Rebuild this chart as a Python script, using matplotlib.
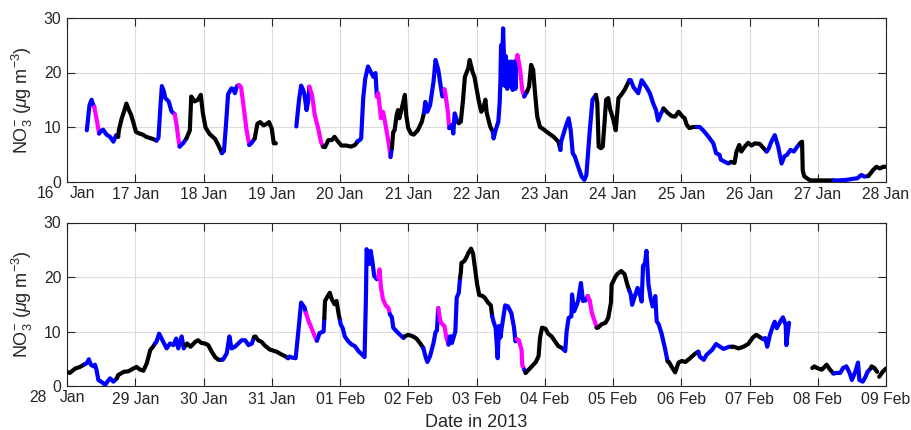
import numpy as np
import matplotlib
matplotlib.use("Agg")
import matplotlib.pyplot as plt
import matplotlib.dates as mdates
import matplotlib.transforms as mtransforms
from datetime import datetime

plt.rcParams['font.family'] = ['Liberation Sans', 'DejaVu Sans']
plt.rcParams['mathtext.fontset'] = 'custom'
plt.rcParams['mathtext.rm'] = 'Liberation Sans'
plt.rcParams['mathtext.it'] = 'Liberation Sans:italic'

# ---------------- data (days since panel start, NO3 value, colour code) ----------------
top_start = datetime(2013, 1, 16)
bot_start = datetime(2013, 1, 28)
nan = np.nan

top_day = [0.29, 0.33, 0.36, 0.38, 0.40, 0.44, 0.47, 0.50, 0.53, 0.58, 0.63, 0.68, 0.72, 0.75,
           0.76, 0.80, 0.84, 0.87, 0.91, 0.94, 0.98, 1.01, 1.06, 1.11, 1.16, 1.21, 1.26, 1.31,
           1.34, 1.37, 1.39, 1.42, 1.44, 1.49, 1.53, 1.58, 1.61, 1.63, 1.65, 1.70, 1.75,
           1.80, 1.82, 1.87, 1.92, 1.96, 1.99, 2.03, 2.09, 2.17, 2.22, 2.27,
           2.30, 2.33, 2.36, 2.41, 2.44, 2.46, 2.49, 2.52, 2.55, 2.58, 2.63, 2.67, 2.70, 2.75,
           2.79, 2.83, 2.88, 2.93, 2.96, 3.00, 3.03, 3.06, 3.20,
           3.36, 3.40, 3.43, 3.46, 3.48, 3.51, 3.54, 3.55, 3.59, 3.63, 3.68, 3.72, 3.75,
           3.78, 3.83, 3.88, 3.92, 3.96, 4.02, 4.09, 4.16, 4.22, 4.26,
           4.29, 4.31, 4.34, 4.37, 4.41, 4.46, 4.49, 4.52, 4.54,
           4.56, 4.60, 4.63, 4.65, 4.71, 4.74, 4.76,
           4.78, 4.80, 4.83, 4.85, 4.87, 4.90, 4.95, 4.97, 5.00, 5.04, 5.08, 5.14, 5.20, 5.23,
           5.25, 5.28, 5.32, 5.37, 5.40, 5.44, 5.48, 5.50, 5.53, 5.54, 5.58, 5.60,
           5.64, 5.66, 5.68, 5.72, 5.74,
           5.77, 5.80, 5.83, 5.88, 5.90, 5.94, 5.97, 6.03, 6.07, 6.10, 6.13, 6.15, 6.20, 6.24,
           6.25, 6.28, 6.32, 6.34, 6.35, 6.36, 6.37, 6.39, 6.40, 6.42, 6.43, 6.45, 6.47, 6.49,
           6.51, 6.53, 6.55, 6.57, 6.59, 6.60, 6.64, 6.67, 6.70, 6.74,
           6.77, 6.80, 6.83, 6.86, 6.89, 6.93, 6.98, 7.03, 7.13, 7.20, 7.23,
           7.24, 7.30, 7.35, 7.38, 7.41, 7.44, 7.49, 7.54, 7.58, 7.61, 7.66, 7.70, 7.75,
           7.77, 7.79, 7.82, 7.85, 7.90, 7.93, 7.96, 8.00, 8.04, 8.08, 8.12, 8.17, 8.24,
           8.26, 8.30, 8.37, 8.42, 8.49, 8.54, 8.59, 8.63, 8.66, 8.70, 8.74,
           8.81, 8.86, 8.91, 8.96, 9.02, 9.05, 9.08, 9.12, 9.17, 9.23,
           9.27, 9.32, 9.40, 9.47, 9.51, 9.56, 9.58, 9.64, 9.69, 9.73,
           9.78, 9.81, 9.85, 9.88, 9.93, 9.98, 10.03, 10.08, 10.15, 10.20, 10.25,
           10.28, 10.32, 10.37, 10.42, 10.47, 10.51, 10.55, 10.60, 10.65, 10.70, 10.74,
           10.77, 10.78, 10.80, 10.84, 10.89, 11.00, 11.10, 11.23,
           11.30, 11.42, 11.52, 11.58, 11.64, 11.68, 11.74,
           11.78, 11.81, 11.86, 11.91, 11.96, 12.00]
top_val = [9.4, 14.0, 15.0, 14.2, 13.7, 11.0, 8.8, 9.3, 9.5, 8.6, 8.2, 7.3, 8.5, 8.2,
           9.4, 11.5, 13.0, 14.3, 13.0, 12.2, 10.5, 9.1, 8.8, 8.6, 8.2, 8.0, 7.8, 7.5,
           8.0, 14.0, 17.5, 16.5, 15.3, 14.7, 12.9, 12.3, 10.0, 8.0, 6.4, 7.0, 7.9,
           9.4, 15.6, 14.7, 15.0, 15.9, 12.6, 9.9, 8.7, 7.8, 6.6, 5.2,
           5.6, 10.5, 16.0, 17.1, 16.9, 16.2, 17.5, 17.7, 17.3, 14.5, 9.5, 6.7, 7.0, 7.9,
           10.6, 10.9, 10.3, 10.6, 10.9, 9.7, 7.0, 7.0, nan,
           10.1, 15.0, 17.6, 16.8, 15.9, 13.1, 15.2, 17.4, 15.9, 12.2, 9.8, 7.3, 6.4,
           6.3, 7.6, 7.6, 8.2, 7.5, 6.6, 6.6, 6.4, 6.7, 7.4,
           7.6, 7.9, 15.3, 18.9, 21.1, 19.9, 19.2, 19.9, 15.6,
           16.2, 11.6, 12.8, 11.6, 7.3, 4.5, 6.1,
           9.1, 9.4, 12.2, 13.1, 11.6, 13.1, 15.9, 12.2, 9.8, 8.8, 8.6, 9.4, 11.0, 12.6,
           14.6, 12.8, 14.0, 18.3, 22.3, 20.5, 17.1, 15.6, 16.9, 16.5, 12.8, 9.8,
           10.4, 8.8, 12.5, 11.0, 10.7,
           11.0, 14.6, 19.2, 20.8, 22.3, 20.2, 19.2, 15.0, 12.8, 13.4, 15.0, 12.6, 10.1, 9.1,
           7.9, 9.4, 11.0, 14.6, 18.3, 25.0, 17.7, 28.1, 23.9, 17.5, 23.0, 17.0, 22.0, 17.5,
           22.0, 16.8, 22.0, 17.0, 22.5, 23.2, 20.5, 16.8, 15.6, 16.5,
           17.4, 21.4, 20.5, 15.9, 11.9, 10.0, 9.6, 9.1, 8.2, 7.3, 5.8,
           7.3, 9.8, 11.6, 9.4, 5.2, 4.6, 2.7, 0.9, 0.3, 1.2, 9.4, 15.0, 15.9,
           14.4, 6.4, 6.1, 6.4, 15.0, 15.3, 13.1, 11.6, 9.4, 15.3, 15.9, 16.8, 18.6,
           18.6, 17.3, 16.2, 18.6, 17.3, 16.2, 14.3, 13.1, 11.2, 12.4, 13.4,
           12.5, 12.0, 11.9, 12.8, 11.9, 11.6, 10.4, 9.8, 10.0, 10.0,
           10.0, 9.4, 8.2, 7.0, 5.2, 4.9, 4.0, 3.6, 3.3, 3.6,
           3.4, 5.5, 6.7, 5.5, 6.4, 7.1, 6.6, 7.0, 6.9, 6.2, 5.5,
           6.0, 7.3, 8.5, 6.4, 3.3, 4.6, 4.9, 5.8, 5.5, 6.4, 7.0,
           7.3, 2.1, 1.0, 0.6, 0.2, 0.2, 0.2, 0.2,
           0.2, 0.3, 0.5, 0.6, 1.2, 0.9, 1.0,
           1.6, 2.1, 2.7, 2.4, 2.7, 2.7]
top_col = (['b'] * 5 + ['m'] * 2 + ['b'] * 7 +
           ['k'] * 14 +
           ['b'] * 8 + ['m'] * 3 + ['b'] * 2 +
           ['k'] * 11 +
           ['b'] * 8 + ['m'] * 4 + ['b'] * 2 +
           ['k'] * 9 +
           ['b'] * 8 + ['m'] * 5 +
           ['k'] * 10 +
           ['b'] * 9 +
           ['m'] * 6 + ['b'] +
           ['k'] * 14 +
           ['b'] * 9 + ['m'] * 3 +
           ['b'] * 5 +
           ['k'] * 14 +
           ['b'] * 19 + ['m'] * 4 + ['b'] +
           ['k'] * 11 +
           ['b'] * 13 +
           ['k'] * 13 +
           ['b'] * 11 +
           ['k'] * 10 +
           ['b'] * 10 +
           ['k'] * 11 +
           ['b'] * 11 +
           ['k'] * 8 +
           ['b'] * 7 +
           ['k'] * 6)

bot_day = [0.00, 0.04, 0.12, 0.19, 0.26,
           0.29, 0.32, 0.35, 0.39, 0.41, 0.43, 0.46, 0.50, 0.56, 0.58, 0.63, 0.68, 0.73,
           0.75, 0.83, 0.90, 0.97, 1.02, 1.07, 1.12, 1.17, 1.22, 1.26, 1.29,
           1.31, 1.35, 1.41, 1.46, 1.51, 1.56, 1.60, 1.63, 1.68, 1.71, 1.74,
           1.76, 1.81, 1.88, 1.92, 1.97, 2.02, 2.07, 2.12, 2.17, 2.22, 2.27,
           2.29, 2.34, 2.38, 2.41, 2.46, 2.51, 2.56, 2.61, 2.66, 2.71, 2.74,
           2.76, 2.80, 2.85, 2.90, 2.97, 3.07, 3.14, 3.19, 3.24,
           3.26, 3.30, 3.35, 3.38, 3.43, 3.48, 3.50,
           3.54, 3.58, 3.63, 3.66,
           3.68, 3.70, 3.76, 3.77,
           3.78, 3.82, 3.85, 3.88, 3.92, 3.95, 3.98, 4.00,
           4.01, 4.04, 4.07, 4.12, 4.17, 4.22, 4.27, 4.32, 4.36, 4.38, 4.39, 4.43, 4.45, 4.48,
           4.50, 4.54, 4.56,
           4.58, 4.60, 4.63, 4.67, 4.71, 4.73,
           4.76, 4.78, 4.83, 4.88, 4.93, 4.95,
           5.00, 5.07, 5.12, 5.17, 5.22,
           5.24, 5.26, 5.28, 5.32, 5.37, 5.40, 5.42, 5.44,
           5.47, 5.50, 5.53, 5.56, 5.59,
           5.61, 5.63, 5.64, 5.69, 5.71, 5.74, 5.76,
           5.77, 5.78, 5.82, 5.86, 5.88, 5.92, 5.95, 5.98, 6.01, 6.04, 6.09, 6.12, 6.17, 6.21, 6.23,
           6.25, 6.28, 6.31, 6.33, 6.35, 6.37, 6.42, 6.46, 6.51, 6.55, 6.57, 6.59,
           6.62, 6.66, 6.67, 6.70,
           6.72,
           6.75, 6.81, 6.87, 6.91, 6.93, 6.96, 7.01, 7.05, 7.10, 7.15, 7.20, 7.25, 7.28,
           7.30, 7.32, 7.35, 7.39, 7.40, 7.43, 7.47, 7.49, 7.53, 7.56, 7.60, 7.63,
           7.66, 7.69, 7.74, 7.76,
           7.78, 7.83, 7.89, 7.93, 7.97, 7.98, 8.03, 8.06, 8.12, 8.17, 8.21, 8.24,
           8.26, 8.28, 8.32, 8.36, 8.40, 8.42, 8.44, 8.47, 8.49, 8.52, 8.55, 8.58, 8.62, 8.64,
           8.67, 8.71, 8.76, 8.80,
           8.82, 8.86, 8.91, 8.96, 9.01, 9.06, 9.12, 9.20, 9.25,
           9.27, 9.33, 9.37, 9.45, 9.51, 9.57, 9.62, 9.70, 9.74,
           9.77, 9.84, 9.91, 9.98, 10.05, 10.10, 10.16, 10.20,
           10.23, 10.26, 10.30, 10.34, 10.37, 10.40, 10.45, 10.49, 10.53, 10.54, 10.56, 10.58,
           10.75,
           10.92, 10.95, 10.99, 11.06, 11.13, 11.18, 11.23,
           11.28, 11.33, 11.37, 11.42, 11.47, 11.50, 11.55, 11.59, 11.61, 11.66, 11.70, 11.73, 11.78,
           11.79, 11.83, 11.87,
           11.885,
           11.90, 11.95, 12.00]
bot_val = [2.6, 2.4, 3.2, 3.5, 4.0,
           4.2, 4.9, 3.9, 3.6, 3.9, 3.1, 1.1, 0.8, 0.2, 0.6, 1.4, 0.8, 1.4,
           2.0, 2.6, 2.7, 3.2, 3.5, 3.0, 2.8, 4.2, 6.6, 7.2, 7.8,
           8.1, 9.6, 8.1, 6.9, 7.8, 7.5, 8.7, 6.9, 9.1, 6.9, 7.5,
           7.8, 7.2, 8.1, 8.4, 7.9, 7.8, 7.5, 6.3, 5.3, 4.8, 4.8,
           4.9, 6.0, 9.1, 6.9, 7.2, 7.8, 8.4, 8.4, 7.5, 7.8, 9.0,
           9.1, 8.4, 8.1, 7.4, 6.7, 6.3, 5.8, 5.5, 5.1,
           5.4, 5.2, 5.1, 8.8, 15.3, 14.4, 13.4,
           11.9, 10.7, 9.1, 8.3,
           8.9, 9.7, 10.0, 12.4,
           15.6, 16.5, 17.1, 15.9, 15.0, 15.6, 13.2, 12.0,
           11.3, 10.6, 9.1, 8.2, 7.6, 7.3, 6.4, 5.8, 5.3, 16.2, 25.1, 22.4, 24.8, 22.4,
           20.2, 19.6, 19.9,
           21.4, 18.1, 15.9, 14.8, 14.3, 13.2,
           12.6, 10.7, 10.0, 9.4, 8.8, 9.1,
           9.4, 9.1, 8.7, 7.9, 7.0,
           6.0, 5.1, 4.4, 5.5, 7.9, 9.9, 10.2, 14.3,
           11.9, 11.3, 11.0, 8.8, 7.6,
           9.1, 9.1, 7.9, 10.0, 16.2, 17.1, 19.9,
           20.8, 22.6, 22.9, 23.8, 24.4, 25.2, 24.3, 21.4, 18.6, 16.7, 16.5, 16.2, 15.3, 14.8, 12.8,
           11.8, 10.7, 5.1, 11.0, 8.9, 10.7, 14.8, 14.6, 13.4, 10.7, 8.2, 8.6,
           8.4, 6.7, 3.9, 3.0,
           2.4,
           2.8, 3.6, 4.4, 5.5, 8.8, 10.7, 10.5, 9.6, 9.1, 8.2, 7.3, 7.0, 6.7,
           6.4, 10.0, 12.5, 12.8, 16.8, 13.7, 14.9, 15.7, 18.9, 15.6, 15.7, 16.5,
           15.7, 13.4, 11.6, 10.7,
           10.7, 11.3, 11.6, 12.5, 15.3, 18.6, 19.9, 20.5, 21.1, 20.5, 18.6, 17.5,
           16.8, 14.9, 16.5, 18.0, 16.5, 15.5, 22.0, 22.6, 24.8, 18.6, 16.2, 14.6, 16.5, 11.9,
           11.3, 9.7, 7.0, 4.5,
           4.4, 3.5, 2.5, 4.3, 4.6, 4.4, 5.0, 5.9, 6.3,
           5.4, 4.8, 5.7, 6.6, 7.7, 7.2, 6.8, 7.2, 7.2,
           7.2, 6.9, 7.2, 7.7, 8.9, 9.4, 8.9, 8.6,
           8.8, 7.2, 9.4, 10.9, 11.8, 10.6, 11.8, 12.6, 11.2, 7.5, 9.7, 11.6,
           nan,
           3.3, 3.6, 3.3, 3.0, 3.9, 3.0, 2.3,
           2.4, 2.4, 3.3, 3.6, 2.3, 1.1, 2.6, 4.3, 1.1, 0.8, 1.7, 2.6, 3.3,
           3.6, 3.3, 2.6,
           nan,
           1.7, 2.6, 3.2]
bot_col = (['k'] * 5 +
           ['b'] * 13 +
           ['k'] * 11 +
           ['b'] * 11 +
           ['k'] * 11 +
           ['b'] * 11 +
           ['k'] * 9 +
           ['b'] * 7 +
           ['m'] * 4 +
           ['b'] * 4 +
           ['k'] * 8 +
           ['b'] * 17 +
           ['m'] * 6 +
           ['b'] * 6 +
           ['k'] * 5 +
           ['b'] * 8 +
           ['m'] * 5 +
           ['b'] * 7 +
           ['k'] * 15 +
           ['b'] * 12 +
           ['m'] * 4 +
           ['b'] +
           ['k'] * 13 +
           ['b'] * 12 +
           ['m'] * 4 +
           ['k'] * 12 +
           ['b'] * 18 +
           ['k'] * 9 +
           ['b'] * 9 +
           ['k'] * 8 +
           ['b'] * 12 +
           ['k'] +
           ['k'] * 7 +
           ['b'] * 13 +
           ['k'] * 3 +
           ['k'] +
           ['k'] * 3)

y_ticks = [0, 10, 20, 30]
y_label = r'NO$_3^{-}$ ($\mu$g m$^{-3}$)'
x_label = 'Date in 2013'
first_labels = [('16', 'Jan'), ('28', 'Jan')]

COLORS = {'k': '#000000', 'b': '#0000FF', 'm': '#FF00FF'}
TXT = '#262626'

# ---------------- figure ----------------
fig = plt.figure(figsize=(9.12, 4.30), dpi=100)
W, H = 912.0, 430.0
ax1 = fig.add_axes([67 / W, 1 - 181.5 / H, 819 / W, 163.5 / H])
ax2 = fig.add_axes([67 / W, 1 - 386 / H, 819 / W, 163.5 / H])


def draw_series(ax, start, days, vals, cols):
    x0 = mdates.date2num(start)
    x = x0 + np.asarray(days, dtype=float)
    y = np.asarray(vals, dtype=float)
    runs = []
    for j in range(1, len(x)):
        if np.isnan(y[j]) or np.isnan(y[j - 1]):
            continue
        if runs and runs[-1][0] == cols[j] and runs[-1][1][-1] == j - 1:
            runs[-1][1].append(j)
        else:
            runs.append((cols[j], [j - 1, j]))
    for c, idx in runs:
        ax.plot(x[idx], y[idx], color=COLORS[c], lw=3.0,
                solid_joinstyle='round', solid_capstyle='round', zorder=3)
    return x0


def style(ax, x0, first, dx_num, dx_mon):
    ax.set_xlim(x0, x0 + 12)
    ax.set_ylim(0, 30)
    ax.set_yticks(y_ticks)
    ticks = [x0 + d for d in range(13)]
    ax.set_xticks(ticks)
    labels = [mdates.num2date(t).strftime('%d %b') for t in ticks]
    labels[0] = ''
    ax.set_xticklabels(labels)
    ax.tick_params(direction='in', length=6, width=0.8, colors=TXT, labelsize=11.3,
                   top=True, right=True, pad=4)
    ax.grid(True, color='#dcdcdc', lw=0.8, zorder=0)
    ax.set_axisbelow(True)
    for s in ax.spines.values():
        s.set_color(TXT)
        s.set_linewidth(0.8)
    ax.set_ylabel(y_label, fontsize=13, color=TXT)
    ax.yaxis.set_label_coords(-0.039, 0.5)
    # first (split) date label, as in the reference
    tr1 = mtransforms.offset_copy(ax.get_xaxis_transform(), fig=fig,
                                  x=dx_num, y=-4, units='dots')
    ax.text(x0, 0, first[0], transform=tr1, ha='right', va='top',
            fontsize=11.3, color=TXT)
    tr2 = mtransforms.offset_copy(ax.get_xaxis_transform(), fig=fig,
                                  x=dx_mon, y=-4, units='dots')
    ax.text(x0, 0, first[1], transform=tr2, ha='left', va='top',
            fontsize=11.3, color=TXT)


x0a = draw_series(ax1, top_start, top_day, top_val, top_col)
style(ax1, x0a, first_labels[0], -13, 3)
x0b = draw_series(ax2, bot_start, bot_day, bot_val, bot_col)
style(ax2, x0b, first_labels[1], -21, -7)
ax2.set_xlabel(x_label, fontsize=13, color=TXT)
ax2.xaxis.set_label_coords(0.5, -0.17)

fig.savefig('out.png', dpi=100)
